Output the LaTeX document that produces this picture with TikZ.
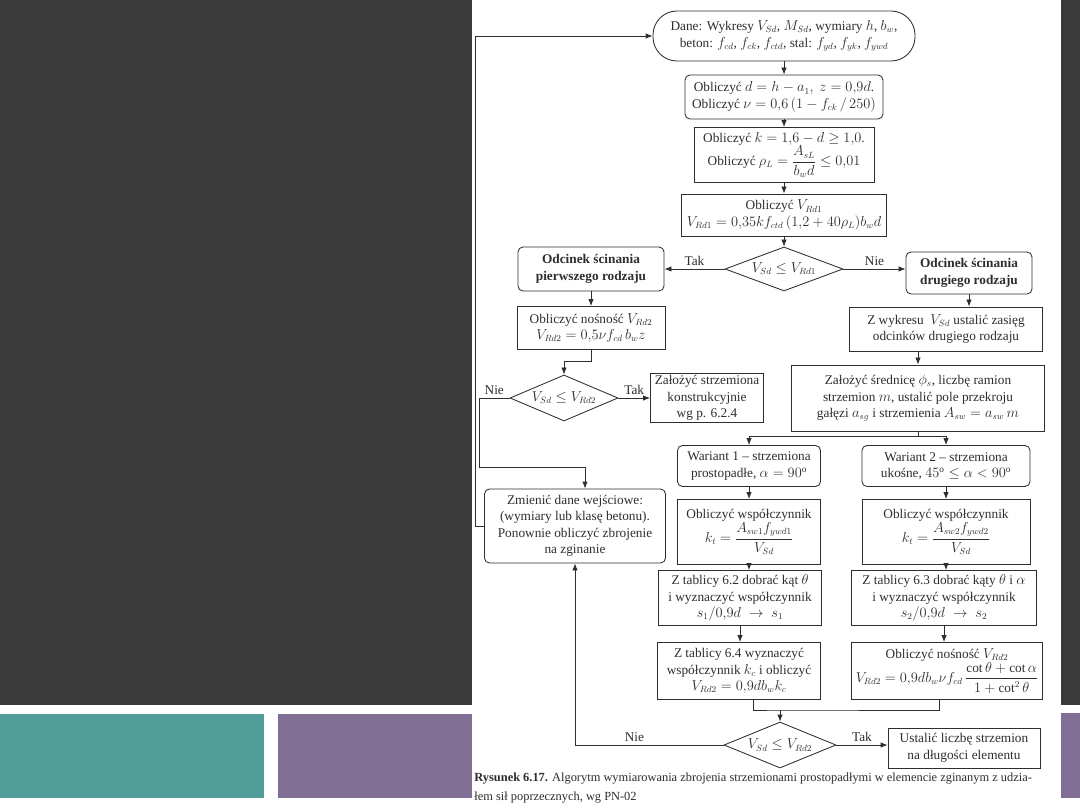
\documentclass[tikz,border=0pt]{standalone}
\usepackage{amsmath,amssymb}
\usepackage{fontspec}
\setmainfont{Liberation Serif}
\usetikzlibrary{shapes.geometric, arrows.meta, positioning}
\definecolor{slidebg}{HTML}{3A3A3A}
\definecolor{tealbar}{HTML}{519E98}
\definecolor{lilacbar}{HTML}{806E95}
\definecolor{ink}{HTML}{2E2E2E}

\begin{document}
\begin{tikzpicture}[x=1pt, y=-1pt, >={Latex[length=7pt,width=5.5pt]},
    font=\fontsize{13.3}{16.5}\selectfont, color=ink, line width=0.85pt,
    blok/.style={draw, rectangle, align=center, inner sep=2pt},
    rblok/.style={blok, rounded corners=5pt},
    pocz/.style={blok, rounded corners=24pt},
    decyzja/.style={draw, diamond, aspect=2.6, inner sep=0pt, align=center}]
    \useasboundingbox (0,0) rectangle (1080,810);
    \fill[white] (0,0) rectangle (1080,810);
    \fill[slidebg] (0,0) rectangle (1080,705);
    \fill[tealbar] (0,714) rectangle (264,798);
    \fill[lilacbar] (278,714) rectangle (472,798);
    \fill[lilacbar] (1061,713) rectangle (1080,798);
    \fill[white] (472,0) rectangle (1061,810);

    \node[pocz, minimum width=262, minimum height=50] (dane) at (784,36)
        {Dane: Wykresy $V_{Sd}$, $M_{Sd}$, wymiary $h$, $b_w$,\\ beton: $f_{cd}$, $f_{ck}$, $f_{ctd}$, stal: $f_{yd}$, $f_{yk}$, $f_{ywd}$};
    \node[rblok, minimum width=198, minimum height=44] (b1) at (784,97)
        {Obliczyć $d = h - a_1,\ z = 0{,}9d$.\\ Obliczyć $\nu = 0{,}6\,(1 - f_{ck}\,/\,250)$};
    \node[blok, minimum width=180, minimum height=55] (b2) at (784,155)
        {Obliczyć $k = 1{,}6 - d \geq 1{,}0$.\\ Obliczyć $\rho_L = \dfrac{A_{sL}}{b_w d} \leq 0{,}01$};
    \node[blok, minimum width=205, minimum height=42] (b3) at (784,215)
        {Obliczyć $V_{Rd1}$\\ $V_{Rd1} = 0{,}35 k f_{ctd}\,(1{,}2 + 40\rho_L) b_w d$};
    \node[decyzja, minimum width=118, minimum height=44] (d1) at (784,269) {$V_{Sd} \leq V_{Rd1}$};
    \node[rblok, minimum width=146, minimum height=44, font=\fontsize{13.3}{16.5}\selectfont\bfseries] (typ1) at (591,269)
        {Odcinek ścinania\\ pierwszego rodzaju};
    \node[rblok, minimum width=126, minimum height=42, font=\fontsize{13.3}{16.5}\selectfont\bfseries] (typ2) at (969,273)
        {Odcinek ścinania\\ drugiego rodzaju};
    \node[blok, minimum width=148, minimum height=43] (vrd2L) at (591,328)
        {Obliczyć nośność $V_{Rd2}$\\ $V_{Rd2} = 0{,}5\nu f_{cd}\, b_w z$};
    \node[blok, minimum width=193, minimum height=44] (zas) at (946,329)
        {Z wykresu \ $V_{Sd}$ ustalić zasięg\\ odcinków drugiego rodzaju};
    \node[decyzja, minimum width=108, minimum height=46] (d2) at (564,398) {$V_{Sd} \leq V_{Rd2}$};
    \node[blok, minimum width=113, minimum height=49] (konstr) at (707,398)
        {Założyć strzemiona\\ konstrukcyjnie\\ wg p. 6.2.4};
    \node[blok, minimum width=253, minimum height=66] (fi) at (918,398)
        {Założyć średnicę $\phi_s$, liczbę ramion\\ strzemion $m$, ustalić pole przekroju\\ gałęzi $a_{sg}$ i strzemienia $A_{sw} = a_{sw}\, m$};
    \node[rblok, minimum width=143, minimum height=41] (war1) at (749,466)
        {Wariant 1 -- strzemiona\\ prostopadłe, $\alpha = 90^\mathrm{o}$};
    \node[rblok, minimum width=168, minimum height=41] (war2) at (946,466)
        {Wariant 2 -- strzemiona\\ ukośne, $45^\mathrm{o} \leq \alpha < 90^\mathrm{o}$};
    \node[rblok, minimum width=181, minimum height=74] (zmien) at (575,526)
        {Zmienić dane wejściowe:\\ (wymiary lub klasę betonu).\\ Ponownie obliczyć zbrojenie\\ na zginanie};
    \node[blok, minimum width=143, minimum height=65] (kt1) at (749,532)
        {Obliczyć współczynnik\\ $k_t = \dfrac{A_{sw1} f_{ywd1}}{V_{Sd}}$};
    \node[blok, minimum width=168, minimum height=65] (kt2) at (946,532)
        {Obliczyć współczynnik\\ $k_t = \dfrac{A_{sw2} f_{ywd2}}{V_{Sd}}$};
    \node[blok, minimum width=163, minimum height=55] (tab1) at (740,598)
        {Z tablicy 6.2 dobrać kąt $\theta$\\ i wyznaczyć współczynnik\\ $s_1/0{,}9d \;\rightarrow\; s_1$};
    \node[blok, minimum width=185, minimum height=55] (tab2) at (944,598)
        {Z tablicy 6.3 dobrać kąty $\theta$ i $\alpha$\\ i wyznaczyć współczynnik\\ $s_2/0{,}9d \;\rightarrow\; s_2$};
    \node[blok, minimum width=163, minimum height=57] (tab3) at (739,671)
        {Z tablicy 6.4 wyznaczyć\\ współczynnik $k_c$ i obliczyć\\ $V_{Rd2} = 0{,}9 d b_w k_c$};
    \node[blok, minimum width=191, minimum height=57] (vrd2R) at (947,671)
        {Obliczyć nośność $V_{Rd2}$\\ $V_{Rd2} = 0{,}9 d b_w \nu f_{cd}\, \dfrac{\cot\theta + \cot\alpha}{1 + \cot^2\theta}$};
    \node[decyzja, minimum width=112, minimum height=46] (d3) at (780,745) {$V_{Sd} \leq V_{Rd2}$};
    \node[blok, minimum width=152, minimum height=40] (ustal) at (964,748)
        {Ustalić liczbę strzemion\\ na długości elementu};
    \node[anchor=north west, align=left, inner sep=0pt, font=\fontsize{12.4}{19}\selectfont] (podpis) at (474,772)
        {\textbf{Rysunek 6.17.} Algorytm wymiarowania zbrojenia strzemionami prostopadłymi w elemencie zginanym z udzia-\\ łem sił poprzecznych, wg PN-02};

    \coordinate (powrot) at (475,36);
    \coordinate (nie2) at (479,467);
    \coordinate (scal) at (780,710);

    \draw[->] (dane) -- (b1);
    \draw[->] (b1) -- (b2);
    \draw[->] (b2) -- (b3);
    \draw[->] (b3) -- (d1);
    \draw[->] (d1) -- node[above]{Tak} (typ1);
    \draw[->] (d1.east) -- node[above]{Nie} (d1.east -| typ2.west);
    \draw[->] (typ1) -- (vrd2L);
    \draw[->] (typ2) -- (typ2.south |- zas.north);
    \draw[->] (vrd2L.south) -- ++(0,12) -| (d2.north);
    \draw[->] (d2) -- node[above]{Tak} (konstr);
    \draw[->] (d2.west) -| node[above, pos=0.25]{Nie} (nie2) -| ([xshift=10pt]zmien.north);
    \draw[->] (zas.south -| fi.north) -- (fi.north);
    \draw (fi.south) -- ++(0,5) coordinate (podzial);
    \draw[->] (podzial) -| (war1.north);
    \draw[->] (podzial) -| (war2.north);
    \draw[->] (war1) -- (war1.south |- kt1.north);
    \draw[->] (war2) -- (war2.south |- kt2.north);
    \draw[->] (kt1.south) -- (kt1.south |- tab1.north);
    \draw[->] (kt2.south) -- (kt2.south |- tab2.north);
    \draw[->] (tab1.south) -- (tab1.south |- tab3.north);
    \draw[->] (tab2.south) -- (tab2.south |- vrd2R.north);
    \draw ([xshift=14pt]tab3.south) |- (scal) -| ([xshift=-8pt]vrd2R.south);
    \draw[->] (scal) -- (d3);
    \draw[->] (d3.east) -- node[above]{Tak} (d3.east -| ustal.west);
    \draw[->] (d3.west) -| node[above, pos=0.3]{Nie} (zmien.south);
    \draw[->] (zmien.west) -| (powrot) -- (dane.west);
\end{tikzpicture}
\end{document}
